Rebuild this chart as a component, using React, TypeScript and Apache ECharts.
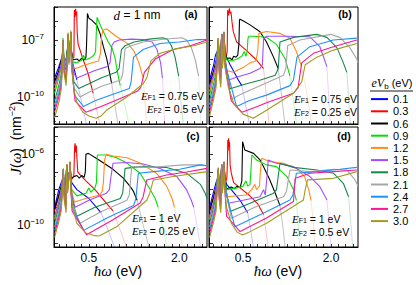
import React, { useEffect, useRef } from 'react';
import * as echarts from 'echarts';

// ---------- legend / series identity ----------
const biasLabels = ['0.1', '0.3', '0.6', '0.9', '1.2', '1.5', '1.8', '2.1', '2.4', '2.7', '3.0'];
const biasColors = ['#0000ff', '#ff0000', '#000000', '#00e000', '#ff8c1a', '#a04dff', '#13884a', '#a6a6a6', '#1e90ff', '#ff1493', '#a39a22'];

// x axis ticks (eV) and labels
const xTickValues = [0, 0.125, 0.25, 0.375, 0.5, 0.625, 0.75, 0.875, 1, 1.125, 1.25, 1.375, 1.5, 1.625, 1.75, 1.875, 2, 2.125, 2.25, 2.375];
const xLabelValues = [0.5, 2.0];
// y axis: log10 extents per panel and labelled decades
const yMinExp = [-11.42, -11.42, -11.24, -11.24];
const yMaxExp = [-5.26, -5.26, -4.46, -4.46];
const yLabelExps = [[-7, -10], [], [-6, -10], []];

// ---------- panel (a): E_F1 = 0.75 eV, E_F2 = 0.5 eV ; points are [ħω (eV), log10 J] ----------
const aPre = [
  [[-0.07,-9.0],[0.0,-8.4],[0.04,-8.0],[0.06,-7.8],[0.07,-7.5],[0.085,-8.0],[0.12,-8.1],[0.145,-7.4],[0.155,-6.7],[0.168,-7.7],[0.19,-7.3],[0.2,-6.6],[0.21,-7.6]],
  [[-0.07,-9.4],[0.0,-8.8],[0.04,-8.3],[0.06,-8.0],[0.07,-7.7],[0.085,-8.1],[0.12,-8.3],[0.145,-7.5],[0.155,-6.7],[0.168,-7.7],[0.19,-7.3],[0.2,-6.6],[0.21,-7.6]],
  [[-0.07,-9.2],[0.0,-8.6],[0.04,-8.1],[0.06,-7.9],[0.07,-7.5],[0.085,-8.0],[0.12,-8.1],[0.145,-7.5],[0.155,-6.7],[0.168,-7.7],[0.19,-7.3],[0.2,-6.6],[0.21,-7.6]],
  [[-0.07,-9.8],[0.0,-9.0],[0.04,-8.4],[0.06,-7.6],[0.07,-6.9],[0.085,-7.9],[0.12,-8.2],[0.145,-7.5],[0.155,-6.7],[0.168,-7.7],[0.19,-7.3],[0.2,-6.6],[0.21,-7.7]],
  [[-0.07,-9.6],[0.0,-8.9],[0.04,-8.3],[0.06,-7.8],[0.07,-7.3],[0.085,-8.0],[0.12,-8.3],[0.145,-7.6],[0.155,-6.7],[0.168,-7.8],[0.19,-7.3],[0.2,-6.6],[0.21,-7.8]],
  [[-0.07,-9.4],[0.0,-8.8],[0.04,-8.3],[0.06,-7.7],[0.07,-7.2],[0.085,-8.1],[0.12,-8.4],[0.145,-7.6],[0.155,-6.7],[0.168,-7.8],[0.19,-7.3],[0.2,-6.6],[0.21,-7.9]],
  [[-0.07,-10.2],[0.0,-9.4],[0.04,-8.8],[0.06,-7.9],[0.07,-7.2],[0.085,-8.3],[0.12,-8.6],[0.145,-7.7],[0.155,-6.7],[0.168,-7.9],[0.19,-7.3],[0.2,-6.6],[0.21,-8.0]],
  [[-0.07,-10.4],[0.0,-9.6],[0.04,-9.0],[0.06,-8.0],[0.07,-7.1],[0.085,-8.4],[0.12,-8.8],[0.145,-7.8],[0.155,-6.7],[0.168,-8.0],[0.19,-7.3],[0.2,-6.6],[0.21,-8.1]],
  [[-0.07,-10.6],[0.0,-9.8],[0.04,-9.2],[0.06,-8.1],[0.07,-7.0],[0.085,-8.5],[0.12,-9.0],[0.145,-7.9],[0.155,-6.7],[0.168,-8.1],[0.19,-7.3],[0.2,-6.6],[0.21,-8.2]],
  [[-0.07,-10.8],[0.0,-10.0],[0.04,-9.4],[0.06,-8.2],[0.07,-7.0],[0.085,-8.6],[0.12,-9.2],[0.145,-8.0],[0.155,-6.7],[0.168,-8.2],[0.19,-7.3],[0.2,-6.6],[0.21,-8.3]],
  [[-0.07,-11.1],[0.0,-10.3],[0.04,-9.6],[0.06,-8.3],[0.07,-7.0],[0.085,-8.7],[0.12,-9.4],[0.145,-8.1],[0.155,-6.6],[0.168,-8.3],[0.19,-7.2],[0.2,-6.5],[0.21,-8.4]],
];
const aRest = [
  [[0.23,-8.2],[0.26,-8.6],[0.3,-9.1]],
  [[0.23,-8.0],[0.25,-7.9],[0.258,-5.42],[0.268,-5.8],[0.278,-5.35],[0.288,-5.7],[0.296,-5.5],[0.305,-6.6],[0.32,-7.2],[0.4,-8.0],[0.48,-8.7],[0.57,-9.8]],
  [[0.23,-8.05],[0.3,-8.0],[0.34,-8.1],[0.38,-7.95],[0.42,-8.05],[0.45,-7.9],[0.46,-7.3],[0.475,-5.6],[0.5,-5.85],[0.546,-5.95],[0.63,-6.22],[0.684,-6.65],[0.74,-7.35],[0.794,-7.96],[0.877,-9.28]],
  [[0.23,-8.15],[0.3,-8.2],[0.38,-8.05],[0.41,-7.8],[0.44,-8.05],[0.52,-7.95],[0.58,-7.8],[0.61,-7.6],[0.625,-6.4],[0.635,-5.8],[0.66,-6.0],[0.7,-6.3],[0.76,-6.7],[0.82,-7.1],[0.88,-7.4],[0.93,-7.9],[0.98,-8.8],[1.02,-9.4]],
  [[0.24,-8.45],[0.28,-8.5],[0.4,-8.35],[0.55,-8.2],[0.66,-8.1],[0.69,-7.7],[0.71,-6.8],[0.73,-6.5],[0.79,-6.4],[0.85,-6.55],[0.95,-6.8],[1.05,-7.0],[1.15,-7.2],[1.25,-7.6],[1.33,-8.2],[1.4,-9.0]],
  [[0.24,-8.7],[0.3,-9.0],[0.45,-8.8],[0.6,-8.6],[0.8,-8.4],[0.85,-8.2],[0.88,-7.3],[0.92,-7.1],[1.0,-7.0],[1.2,-6.95],[1.4,-6.97],[1.55,-7.1],[1.63,-7.5],[1.69,-8.2],[1.72,-9.0]],
  [[0.25,-9.2],[0.33,-9.55],[0.5,-9.3],[0.7,-9.0],[0.95,-8.7],[1.0,-8.5],[1.04,-7.5],[1.1,-7.3],[1.25,-7.1],[1.5,-6.95],[1.72,-6.88],[1.8,-6.95],[1.87,-7.3],[1.93,-7.9],[1.99,-8.9]],
  [[0.25,-9.5],[0.35,-10.0],[0.5,-9.75],[0.7,-9.45],[1.03,-9.1],[1.06,-8.8],[1.1,-7.45],[1.2,-7.3],[1.4,-7.1],[1.7,-6.97],[2.04,-6.88],[2.12,-7.0],[2.2,-7.4],[2.27,-8.1],[2.32,-8.9]],
  [[0.26,-9.9],[0.41,-10.5],[0.6,-10.2],[0.9,-9.85],[1.17,-9.55],[1.2,-9.2],[1.24,-7.9],[1.4,-7.5],[1.68,-7.18],[2.0,-7.1],[2.3,-6.97],[2.46,-6.98]],
  [[0.27,-10.2],[0.45,-10.8],[0.7,-10.5],[1.0,-10.1],[1.3,-9.7],[1.36,-9.5],[1.42,-8.7],[1.6,-8.0],[1.9,-7.5],[2.18,-7.3],[2.46,-7.0]],
  [[0.25,-9.6],[0.3,-10.3],[0.4,-10.8],[0.5,-11.0],[0.62,-11.12],[0.7,-11.0],[0.79,-10.7],[1.13,-10.0],[1.4,-9.3],[1.46,-9.0],[1.53,-8.1],[1.68,-7.7],[1.96,-7.45],[2.24,-7.3],[2.46,-7.1]],
];
const aTail = [
  [[0.3,-9.1],[0.38,-10.3],[0.47,-11.6]],
  [[0.57,-9.8],[0.63,-10.7],[0.69,-11.6]],
  [[0.877,-9.28],[0.93,-10.4],[0.99,-11.6]],
  [[1.02,-9.4],[1.1,-10.5],[1.18,-11.6]],
  [[1.4,-9.0],[1.43,-10.3],[1.46,-11.6]],
  [[1.72,-9.0],[1.74,-10.3],[1.76,-11.6]],
  [[1.99,-8.9],[2.03,-10.3],[2.07,-11.6]],
  [[2.32,-8.9],[2.34,-10.3],[2.36,-11.6]],
  [], [], [],
];

// ---------- panel (b): E_F1 = 0.75 eV, E_F2 = 0.25 eV ----------
const bPre = [
  [[-0.07,-9.1],[0.0,-8.3],[0.03,-7.8],[0.06,-7.6],[0.079,-7.3],[0.095,-7.9],[0.12,-7.9],[0.136,-6.7],[0.15,-7.6],[0.168,-7.2],[0.176,-6.6],[0.19,-7.5]],
  [[-0.07,-9.4],[0.0,-8.7],[0.04,-8.2],[0.065,-7.8],[0.079,-7.4],[0.095,-8.0],[0.12,-8.0],[0.136,-6.7],[0.15,-7.7],[0.168,-7.2],[0.176,-6.6],[0.19,-7.6]],
  [[-0.07,-9.3],[0.0,-8.6],[0.04,-8.1],[0.065,-7.7],[0.079,-7.2],[0.095,-8.0],[0.12,-8.0],[0.136,-6.7],[0.15,-7.7],[0.168,-7.2],[0.176,-6.6],[0.19,-7.6]],
  [[-0.07,-9.9],[0.0,-8.9],[0.04,-8.3],[0.065,-7.5],[0.079,-6.9],[0.095,-8.0],[0.12,-8.1],[0.136,-6.7],[0.15,-7.8],[0.168,-7.2],[0.176,-6.6],[0.19,-7.7]],
  [[-0.07,-9.7],[0.0,-8.9],[0.04,-8.3],[0.065,-7.6],[0.079,-7.1],[0.095,-8.1],[0.12,-8.3],[0.136,-6.7],[0.15,-7.9],[0.168,-7.2],[0.176,-6.6],[0.19,-7.8]],
  [[-0.07,-9.5],[0.0,-8.8],[0.04,-8.3],[0.065,-7.6],[0.079,-7.0],[0.095,-8.2],[0.12,-8.5],[0.136,-6.7],[0.15,-8.0],[0.168,-7.2],[0.176,-6.6],[0.19,-7.9]],
  [[-0.07,-10.2],[0.0,-9.3],[0.04,-8.7],[0.065,-7.7],[0.079,-7.0],[0.095,-8.4],[0.12,-8.7],[0.136,-6.7],[0.15,-8.1],[0.168,-7.2],[0.176,-6.6],[0.19,-8.0]],
  [[-0.07,-10.4],[0.0,-9.5],[0.04,-8.9],[0.065,-7.8],[0.079,-6.95],[0.095,-8.5],[0.12,-8.9],[0.136,-6.7],[0.15,-8.2],[0.168,-7.2],[0.176,-6.6],[0.19,-8.1]],
  [[-0.07,-10.6],[0.0,-9.7],[0.04,-9.1],[0.065,-7.9],[0.079,-6.9],[0.095,-8.6],[0.12,-9.1],[0.136,-6.7],[0.15,-8.3],[0.168,-7.2],[0.176,-6.6],[0.19,-8.2]],
  [[-0.07,-10.8],[0.0,-9.9],[0.04,-9.3],[0.065,-8.0],[0.079,-6.9],[0.095,-8.7],[0.12,-9.3],[0.136,-6.7],[0.15,-8.4],[0.168,-7.2],[0.176,-6.6],[0.19,-8.3]],
  [[-0.07,-11.0],[0.0,-10.1],[0.04,-9.5],[0.065,-8.1],[0.079,-6.9],[0.095,-8.8],[0.12,-9.5],[0.136,-6.65],[0.15,-8.5],[0.168,-7.2],[0.176,-6.55],[0.19,-8.4]],
];
const bRest = [
  [[0.22,-7.9],[0.28,-8.3],[0.334,-8.6],[0.42,-9.1],[0.48,-9.4]],
  [[0.21,-7.9],[0.23,-7.6],[0.238,-5.42],[0.255,-5.7],[0.267,-5.33],[0.284,-5.6],[0.295,-5.51],[0.312,-6.05],[0.334,-6.56],[0.39,-7.1],[0.56,-7.56],[0.73,-8.05],[0.85,-8.5]],
  [[0.22,-7.96],[0.28,-7.95],[0.31,-8.05],[0.34,-7.85],[0.38,-7.9],[0.41,-7.8],[0.43,-7.2],[0.44,-5.93],[0.448,-5.9],[0.5,-5.98],[0.62,-6.2],[0.79,-6.56],[0.9,-7.1],[1.02,-7.9],[1.1,-8.5]],
  [[0.22,-8.05],[0.3,-8.1],[0.4,-8.0],[0.48,-7.85],[0.52,-7.6],[0.55,-7.85],[0.57,-7.6],[0.585,-6.9],[0.6,-6.8],[0.68,-6.8],[0.9,-6.85],[1.07,-7.23],[1.22,-8.0],[1.3,-8.9]],
  [[0.22,-8.6],[0.334,-8.7],[0.5,-8.45],[0.62,-8.2],[0.72,-8.1],[0.75,-7.6],[0.77,-6.65],[0.9,-6.55],[1.13,-6.65],[1.3,-6.9],[1.41,-7.6],[1.5,-8.4]],
  [[0.25,-9.1],[0.4,-8.95],[0.62,-8.75],[0.79,-8.5],[0.83,-8.3],[0.85,-6.95],[0.9,-6.8],[1.25,-6.8],[1.64,-6.83],[1.81,-7.35],[1.93,-8.4]],
  [[0.28,-9.56],[0.5,-9.35],[0.8,-9.1],[1.05,-8.85],[1.1,-8.5],[1.13,-7.1],[1.36,-6.86],[1.76,-6.7],[1.93,-6.86],[2.1,-7.4],[2.21,-8.2],[2.27,-8.7]],
  [[0.3,-10.1],[0.5,-9.8],[0.79,-9.4],[1.19,-8.85],[1.23,-8.5],[1.26,-7.3],[1.47,-7.0],[1.99,-6.7],[2.15,-6.86],[2.32,-7.4],[2.44,-8.0],[2.46,-8.2]],
  [[0.39,-10.5],[0.6,-10.2],[0.9,-9.9],[1.3,-9.4],[1.36,-9.1],[1.42,-7.9],[1.64,-7.35],[2.04,-7.0],[2.44,-6.9]],
  [[0.3,-10.2],[0.48,-10.8],[0.7,-10.55],[0.9,-10.3],[1.36,-9.8],[1.44,-9.5],[1.5,-8.2],[1.7,-7.7],[2.04,-7.35],[2.44,-7.0]],
  [[0.25,-9.5],[0.35,-10.4],[0.5,-10.9],[0.675,-11.12],[0.9,-10.7],[1.36,-9.8],[1.5,-9.2],[1.56,-8.3],[1.76,-7.9],[2.04,-7.53],[2.44,-7.18]],
];
const bTail = [
  [[0.48,-9.4],[0.55,-10.5],[0.62,-11.6]],
  [[0.85,-8.5],[0.9,-10.0],[0.95,-11.6]],
  [[1.1,-8.5],[1.16,-10.0],[1.22,-11.6]],
  [[1.3,-8.9],[1.36,-10.2],[1.42,-11.6]],
  [[1.5,-8.4],[1.6,-10.0],[1.68,-11.6]],
  [[1.93,-8.4],[1.96,-10.0],[1.99,-11.6]],
  [[2.27,-8.7],[2.3,-10.0],[2.33,-11.6]],
  [], [], [], [],
];

// ---------- panel (c): E_F1 = 1 eV, E_F2 = 0.25 eV ----------
const cPre = [
  [[-0.07,-9.0],[0.0,-8.0],[0.04,-7.6],[0.065,-7.4],[0.075,-7.17],[0.09,-7.7],[0.12,-7.6],[0.13,-6.6],[0.145,-7.4],[0.178,-7.0],[0.186,-6.45],[0.2,-7.3]],
  [[-0.07,-9.2],[0.0,-8.4],[0.04,-7.9],[0.065,-7.6],[0.075,-7.4],[0.09,-7.8],[0.12,-7.7],[0.13,-6.6],[0.145,-7.4],[0.178,-7.0],[0.186,-6.45],[0.2,-7.3]],
  [[-0.07,-9.1],[0.0,-8.3],[0.04,-7.8],[0.065,-7.5],[0.075,-7.3],[0.09,-7.8],[0.12,-7.7],[0.13,-6.6],[0.145,-7.4],[0.178,-7.0],[0.186,-6.45],[0.2,-7.3]],
  [[-0.07,-9.6],[0.0,-8.7],[0.04,-8.0],[0.065,-7.2],[0.075,-6.8],[0.09,-7.9],[0.12,-7.9],[0.13,-6.6],[0.145,-7.5],[0.178,-7.0],[0.186,-6.45],[0.2,-7.4]],
  [[-0.07,-9.7],[0.0,-8.8],[0.04,-8.1],[0.065,-7.4],[0.075,-7.0],[0.09,-8.0],[0.12,-8.1],[0.13,-6.6],[0.145,-7.6],[0.178,-7.0],[0.186,-6.45],[0.2,-7.5]],
  [[-0.07,-9.5],[0.0,-8.7],[0.04,-8.1],[0.065,-7.3],[0.075,-6.95],[0.09,-8.1],[0.12,-8.3],[0.13,-6.6],[0.145,-7.7],[0.178,-7.0],[0.186,-6.45],[0.2,-7.6]],
  [[-0.07,-9.9],[0.0,-9.0],[0.04,-8.4],[0.065,-7.4],[0.075,-6.9],[0.09,-8.2],[0.12,-8.5],[0.13,-6.6],[0.145,-7.8],[0.178,-7.0],[0.186,-6.45],[0.2,-7.7]],
  [[-0.07,-10.1],[0.0,-9.2],[0.04,-8.6],[0.065,-7.5],[0.075,-6.85],[0.09,-8.3],[0.12,-8.7],[0.13,-6.6],[0.145,-7.9],[0.178,-7.0],[0.186,-6.45],[0.2,-7.8]],
  [[-0.07,-10.3],[0.0,-9.4],[0.04,-8.8],[0.065,-7.6],[0.075,-6.85],[0.09,-8.4],[0.12,-8.9],[0.13,-6.6],[0.145,-8.0],[0.178,-7.0],[0.186,-6.45],[0.2,-7.9]],
  [[-0.07,-10.5],[0.0,-9.6],[0.04,-9.0],[0.065,-7.7],[0.075,-6.85],[0.09,-8.5],[0.12,-9.1],[0.13,-6.6],[0.145,-8.1],[0.178,-7.0],[0.186,-6.45],[0.2,-8.0]],
  [[-0.07,-10.7],[0.0,-9.8],[0.04,-9.2],[0.065,-7.8],[0.075,-6.85],[0.09,-8.6],[0.12,-9.3],[0.13,-6.55],[0.145,-8.2],[0.178,-7.0],[0.186,-6.4],[0.2,-8.1]],
];
const cRest = [
  [[0.214,-7.6],[0.3,-8.0],[0.5,-8.5],[0.7,-9.3]],
  [[0.22,-7.4],[0.25,-7.2],[0.262,-5.6],[0.27,-5.38],[0.28,-5.9],[0.29,-5.5],[0.3,-6.2],[0.315,-7.0],[0.35,-7.15],[0.45,-7.5],[0.6,-8.0],[0.75,-8.6],[0.9,-9.2]],
  [[0.214,-7.35],[0.26,-7.25],[0.3,-7.2],[0.34,-7.35],[0.38,-7.2],[0.42,-7.3],[0.44,-7.0],[0.45,-6.0],[0.49,-5.95],[0.68,-6.35],[0.9,-6.85],[1.07,-7.35],[1.18,-7.8],[1.24,-8.1],[1.3,-8.6]],
  [[0.214,-8.0],[0.3,-8.35],[0.45,-8.2],[0.5,-7.9],[0.53,-8.15],[0.6,-7.9],[0.625,-7.6],[0.64,-6.04],[0.79,-6.04],[0.96,-6.2],[1.13,-6.5],[1.35,-7.07],[1.51,-7.95],[1.6,-8.5],[1.65,-9.0]],
  [[0.22,-8.2],[0.26,-8.7],[0.45,-8.5],[0.68,-8.3],[0.72,-8.1],[0.74,-7.6],[0.76,-6.3],[0.79,-6.0],[0.9,-6.1],[1.13,-6.2],[1.35,-6.5],[1.62,-7.07],[1.79,-7.8],[1.88,-8.5],[1.92,-9.0]],
  [[0.22,-8.4],[0.27,-9.0],[0.5,-8.6],[0.79,-8.2],[0.84,-8.0],[0.86,-7.4],[0.9,-6.51],[1.13,-6.47],[1.4,-6.55],[1.68,-6.8],[1.96,-7.26],[2.12,-8.0],[2.2,-8.6],[2.24,-9.0]],
  [[0.22,-8.6],[0.3,-9.5],[0.6,-9.0],[1.02,-8.5],[1.06,-8.2],[1.1,-6.8],[1.35,-6.7],[1.79,-6.75],[2.12,-7.07],[2.35,-7.7],[2.43,-8.2],[2.46,-8.5]],
  [[0.22,-8.8],[0.35,-9.9],[0.7,-9.25],[1.13,-8.6],[1.17,-8.3],[1.21,-6.7],[1.51,-6.75],[2.07,-6.6],[2.35,-6.6],[2.46,-6.65]],
  [[0.22,-9.0],[0.41,-10.3],[0.8,-9.6],[1.24,-8.9],[1.28,-8.5],[1.32,-7.07],[1.57,-6.98],[2.01,-6.85],[2.35,-6.6],[2.46,-6.65]],
  [[0.22,-9.2],[0.46,-10.55],[0.9,-9.7],[1.35,-8.75],[1.4,-8.4],[1.46,-7.45],[1.79,-7.17],[2.12,-7.0],[2.46,-6.8]],
  [[0.23,-9.0],[0.3,-9.9],[0.45,-10.45],[0.6,-10.6],[0.67,-10.62],[0.96,-10.1],[1.46,-8.6],[1.51,-8.2],[1.57,-7.45],[1.9,-7.26],[2.46,-6.98]],
];
const cTail = [
  [[0.7,-9.3],[0.82,-10.3],[0.93,-11.3]],
  [[0.9,-9.2],[1.02,-10.3],[1.13,-11.3]],
  [[1.3,-8.6],[1.4,-10.0],[1.5,-11.3]],
  [[1.65,-9.0],[1.73,-10.2],[1.8,-11.3]],
  [[1.92,-9.0],[1.99,-10.2],[2.06,-11.3]],
  [[2.24,-9.0],[2.3,-10.2],[2.36,-11.3]],
  [], [], [], [], [],
];

// ---------- panel (d): E_F1 = 1 eV, E_F2 = 0.5 eV ----------
const dPre = [
  [[-0.07,-9.0],[0.0,-8.1],[0.04,-7.6],[0.065,-7.4],[0.079,-7.0],[0.095,-7.7],[0.12,-7.6],[0.136,-6.6],[0.15,-7.4],[0.168,-7.0],[0.176,-6.45],[0.19,-7.3]],
  [[-0.07,-9.2],[0.0,-8.4],[0.04,-7.9],[0.065,-7.6],[0.079,-7.3],[0.095,-7.8],[0.12,-7.7],[0.136,-6.6],[0.15,-7.4],[0.168,-7.0],[0.176,-6.45],[0.19,-7.3]],
  [[-0.07,-9.2],[0.0,-8.4],[0.04,-7.9],[0.065,-7.6],[0.079,-7.3],[0.095,-7.8],[0.12,-7.7],[0.136,-6.6],[0.15,-7.4],[0.168,-7.0],[0.176,-6.45],[0.19,-7.3]],
  [[-0.07,-9.6],[0.0,-8.7],[0.04,-8.0],[0.065,-7.3],[0.079,-6.75],[0.095,-7.9],[0.12,-7.9],[0.136,-6.6],[0.15,-7.5],[0.168,-7.0],[0.176,-6.45],[0.19,-7.4]],
  [[-0.07,-9.7],[0.0,-8.8],[0.04,-8.1],[0.065,-7.4],[0.079,-6.9],[0.095,-8.0],[0.12,-8.1],[0.136,-6.6],[0.15,-7.6],[0.168,-7.0],[0.176,-6.45],[0.19,-7.5]],
  [[-0.07,-9.5],[0.0,-8.7],[0.04,-8.1],[0.065,-7.3],[0.079,-6.9],[0.095,-8.1],[0.12,-8.3],[0.136,-6.6],[0.15,-7.7],[0.168,-7.0],[0.176,-6.45],[0.19,-7.6]],
  [[-0.07,-9.9],[0.0,-9.0],[0.04,-8.4],[0.065,-7.4],[0.079,-6.85],[0.095,-8.2],[0.12,-8.5],[0.136,-6.6],[0.15,-7.8],[0.168,-7.0],[0.176,-6.45],[0.19,-7.7]],
  [[-0.07,-10.1],[0.0,-9.2],[0.04,-8.6],[0.065,-7.5],[0.079,-6.8],[0.095,-8.3],[0.12,-8.7],[0.136,-6.6],[0.15,-7.9],[0.168,-7.0],[0.176,-6.45],[0.19,-7.8]],
  [[-0.07,-10.3],[0.0,-9.4],[0.04,-8.8],[0.065,-7.6],[0.079,-6.8],[0.095,-8.4],[0.12,-8.9],[0.136,-6.6],[0.15,-8.0],[0.168,-7.0],[0.176,-6.45],[0.19,-7.9]],
  [[-0.07,-10.5],[0.0,-9.6],[0.04,-9.0],[0.065,-7.7],[0.079,-6.8],[0.095,-8.5],[0.12,-9.1],[0.136,-6.6],[0.15,-8.1],[0.168,-7.0],[0.176,-6.45],[0.19,-8.0]],
  [[-0.07,-10.7],[0.0,-9.8],[0.04,-9.2],[0.065,-7.8],[0.079,-6.8],[0.095,-8.6],[0.12,-9.3],[0.136,-6.55],[0.15,-8.2],[0.168,-7.0],[0.176,-6.4],[0.19,-8.1]],
];
const dRest = [
  [[0.22,-7.7],[0.3,-8.0],[0.45,-8.6],[0.58,-9.3]],
  [[0.21,-7.5],[0.225,-7.3],[0.235,-6.3],[0.24,-5.2],[0.247,-5.8],[0.254,-5.1],[0.262,-5.6],[0.27,-5.3],[0.28,-6.6],[0.3,-7.07],[0.34,-7.6],[0.45,-7.9],[0.6,-8.3],[0.75,-8.8],[0.85,-9.4]],
  [[0.22,-7.95],[0.3,-7.85],[0.35,-7.95],[0.4,-7.8],[0.45,-7.9],[0.48,-7.5],[0.493,-5.29],[0.53,-5.76],[0.68,-5.95],[0.79,-6.32],[0.85,-6.7],[0.95,-7.4],[1.05,-8.2],[1.13,-8.9]],
  [[0.22,-8.0],[0.4,-7.9],[0.5,-7.8],[0.55,-7.5],[0.58,-7.8],[0.62,-7.7],[0.64,-6.6],[0.65,-6.04],[0.73,-6.32],[0.9,-6.6],[1.07,-6.7],[1.25,-7.26],[1.36,-8.0],[1.41,-8.6]],
  [[0.22,-8.4],[0.56,-8.3],[0.65,-8.0],[0.7,-7.7],[0.73,-8.0],[0.78,-7.8],[0.8,-6.8],[0.82,-6.23],[0.96,-6.42],[1.19,-6.51],[1.41,-6.8],[1.55,-7.26],[1.62,-8.0],[1.66,-8.6]],
  [[0.25,-8.77],[0.5,-8.6],[0.79,-8.4],[0.85,-8.0],[0.88,-8.3],[0.91,-7.2],[0.93,-6.32],[1.07,-6.51],[1.36,-6.7],[1.64,-7.26],[1.81,-7.83],[1.93,-8.58]],
  [[0.28,-9.24],[0.6,-8.8],[1.02,-8.2],[1.07,-8.0],[1.13,-6.51],[1.36,-6.74],[1.76,-6.89],[2.04,-7.07],[2.21,-7.64],[2.3,-8.4]],
  [[0.3,-9.62],[0.7,-9.0],[1.19,-8.4],[1.24,-8.1],[1.3,-6.89],[1.64,-6.98],[2.04,-6.85],[2.27,-6.89],[2.41,-7.45],[2.46,-7.8]],
  [[0.36,-10.09],[0.8,-9.4],[1.3,-8.58],[1.35,-8.3],[1.41,-7.07],[1.76,-6.98],[2.15,-6.85],[2.44,-6.74]],
  [[0.22,-9.5],[0.45,-10.37],[0.9,-9.6],[1.36,-8.67],[1.39,-7.36],[1.64,-7.07],[2.04,-6.98],[2.44,-6.89]],
  [[0.22,-9.0],[0.3,-9.9],[0.4,-10.4],[0.49,-10.56],[0.6,-10.4],[0.9,-9.9],[1.53,-8.58],[1.56,-8.0],[1.6,-7.45],[2.04,-7.36],[2.44,-6.98]],
];
const dTail = [
  [[0.58,-9.3],[0.63,-10.3],[0.68,-11.3]],
  [[0.85,-9.4],[0.89,-10.3],[0.93,-11.3]],
  [[1.13,-8.9],[1.18,-10.1],[1.22,-11.3]],
  [[1.41,-8.6],[1.44,-10.0],[1.47,-11.3]],
  [[1.66,-8.6],[1.7,-10.0],[1.73,-11.3]],
  [[1.93,-8.58],[1.97,-10.0],[2.0,-11.3]],
  [[2.3,-8.4],[2.34,-10.0],[2.37,-11.3]],
  [], [], [], [],
];

const panelPre = [aPre, bPre, cPre, dPre];
const panelRest = [aRest, bRest, cRest, dRest];
const panelTail = [aTail, bTail, cTail, dTail];

const SERIF = "'Liberation Serif', 'DejaVu Serif', serif";
const SANS = "'Liberation Sans', Arial, sans-serif";

const toData = (pts: number[][]) => pts.map(([x, e]) => [x, Math.pow(10, e)]);

export default function App() {
  const ref = useRef<HTMLDivElement>(null);
  useEffect(() => {
    if (!ref.current) return;
    const chart = echarts.init(ref.current, undefined, { renderer: 'svg' });

    const grids = [
      { left: 54, top: 7, width: 153, height: 117 },
      { left: 209, top: 7, width: 149, height: 117 },
      { left: 54, top: 127, width: 153, height: 120 },
      { left: 209, top: 127, width: 149, height: 120 },
    ].map((g) => ({ ...g, show: true, borderColor: '#000', borderWidth: 1, backgroundColor: 'transparent', containLabel: false }));

    const xAxes = [0, 1, 2, 3].map((p) => ({
      type: 'value',
      gridIndex: p,
      min: -0.08,
      max: 2.46,
      axisLine: { show: true, onZero: false, lineStyle: { color: '#000', width: 1 } },
      axisTick: { show: true, inside: true, length: 3, customValues: xTickValues, lineStyle: { color: '#000', width: 0.8 } },
      axisLabel: {
        show: p >= 2,
        customValues: xLabelValues,
        formatter: (v: number) => v.toFixed(1),
        color: '#000',
        fontSize: 12,
        fontFamily: SANS,
        margin: 5,
      },
      splitLine: { show: false },
    }));

    const yAxes = [0, 1, 2, 3].map((p) => ({
      type: 'log',
      logBase: 10,
      gridIndex: p,
      min: Math.pow(10, yMinExp[p]),
      max: Math.pow(10, yMaxExp[p]),
      axisLine: { show: true, onZero: false, lineStyle: { color: '#000', width: 1 } },
      axisTick: { show: true, inside: true, length: 4, lineStyle: { color: '#000', width: 0.8 } },
      minorTick: { show: true, splitNumber: 2, length: 2, lineStyle: { color: '#000', width: 0.6 } },
      axisLabel: {
        show: yLabelExps[p].length > 0,
        formatter: (v: number) => {
          const e = Math.log10(v);
          const r = Math.round(e);
          if (Math.abs(e - r) > 1e-6 || !yLabelExps[p].includes(r)) return '';
          return '10{s|−' + String(-r) + '}';
        },
        color: '#000',
        fontSize: 12,
        lineHeight: 15,
        fontFamily: SANS,
        margin: 10,
        rich: { s: { fontSize: 8, lineHeight: 8, verticalAlign: 'top', fontFamily: SANS, color: '#000' } },
      },
      splitLine: { show: false },
    }));

    const series: any[] = [];
    for (let p = 0; p < 4; p++) {
      for (let i = 0; i < biasLabels.length; i++) {
        const tail = panelTail[p][i];
        if (tail.length) {
          series.push({
            type: 'line',
            name: 'tail ' + biasLabels[i],
            xAxisIndex: p,
            yAxisIndex: p,
            data: toData(tail),
            showSymbol: false,
            silent: true,
            lineStyle: { color: biasColors[i], width: 0.8, opacity: 0.3 },
            itemStyle: { color: biasColors[i] },
          });
        }
      }
      for (let i = 0; i < biasLabels.length; i++) {
        series.push({
          type: 'line',
          name: biasLabels[i],
          xAxisIndex: p,
          yAxisIndex: p,
          data: toData([...panelPre[p][i], ...panelRest[p][i]]),
          showSymbol: false,
          lineStyle: { color: biasColors[i], width: 1.1 },
          itemStyle: { color: biasColors[i] },
        });
      }
    }

    const efRich = {
      i: { fontFamily: SERIF, fontStyle: 'italic', fontSize: 11, lineHeight: 10, color: '#000' },
      s: { fontFamily: SANS, fontSize: 7, lineHeight: 6, verticalAlign: 'bottom', color: '#000' },
      n: { fontFamily: SANS, fontSize: 10.5, lineHeight: 10, color: '#000' },
    };
    const efText = (x: number, y: number, txt: string, align: string) => ({
      type: 'text',
      x,
      y,
      silent: true,
      style: { text: txt, rich: efRich, align, verticalAlign: 'middle' },
    });
    const panelLetter = (x: number, y: number, t: string) => ({
      type: 'text',
      x,
      y,
      silent: true,
      style: { text: t, font: 'bold 10.5px ' + SANS, fill: '#000', align: 'center', verticalAlign: 'middle' },
    });
    const xTitleRich = {
      i: { fontFamily: SERIF, fontStyle: 'italic', fontSize: 15, lineHeight: 16, color: '#000' },
      n: { fontFamily: SANS, fontSize: 14, lineHeight: 16, color: '#000' },
    };

    const option: any = {
      animation: false,
      grid: grids,
      xAxis: xAxes,
      yAxis: yAxes,
      series,
      legend: {
        data: biasLabels,
        orient: 'vertical',
        left: 371,
        top: 93,
        icon: 'rect',
        itemWidth: 17,
        itemHeight: 2,
        itemGap: 0,
        padding: 0,
        selectedMode: false,
        textStyle: { fontSize: 11, fontFamily: SANS, color: '#000', lineHeight: 12.2 },
      },
      graphic: [
        {
          type: 'text', x: 137, y: 15, silent: true,
          style: {
            text: '{i|d}{n| = 1 nm}', align: 'center', verticalAlign: 'middle',
            rich: {
              i: { fontFamily: SERIF, fontStyle: 'italic', fontSize: 13, lineHeight: 15, color: '#000' },
              n: { fontFamily: SANS, fontSize: 12, lineHeight: 15, color: '#000' },
            },
          },
        },
        panelLetter(191, 14, '(a)'),
        panelLetter(345, 14, '(b)'),
        panelLetter(193, 136, '(c)'),
        panelLetter(344, 136, '(d)'),
        efText(204, 95.5, '{i|E}{s|F1}{n| = 0.75 eV}', 'right'),
        efText(204, 108.5, '{i|E}{s|F2}{n| = 0.5 eV}', 'right'),
        efText(357, 98.5, '{i|E}{s|F1}{n| = 0.75 eV}', 'right'),
        efText(357, 111.5, '{i|E}{s|F2}{n| = 0.25 eV}', 'right'),
        efText(132, 217.5, '{i|E}{s|F1}{n| = 1 eV}', 'left'),
        efText(132, 230.5, '{i|E}{s|F2}{n| = 0.25 eV}', 'left'),
        efText(292, 218.5, '{i|E}{s|F1}{n| = 1 eV}', 'left'),
        efText(292, 231.5, '{i|E}{s|F2}{n| = 0.5 eV}', 'left'),
        {
          type: 'text', x: 118, y: 271, silent: true,
          style: { text: '{i|ħω}{n| (eV)}', rich: xTitleRich, align: 'center', verticalAlign: 'middle' },
        },
        {
          type: 'text', x: 278, y: 271, silent: true,
          style: { text: '{i|ħω}{n| (eV)}', rich: xTitleRich, align: 'center', verticalAlign: 'middle' },
        },
        {
          type: 'text', x: 16, y: 138, rotation: Math.PI / 2, silent: true,
          style: {
            text: '{i|J}{n|(}{i|ω}{n|)  (nm}{p|−2}{n|)}', align: 'center', verticalAlign: 'middle',
            rich: {
              i: { fontFamily: SERIF, fontStyle: 'italic', fontSize: 15, lineHeight: 17, color: '#000' },
              n: { fontFamily: SANS, fontSize: 14, lineHeight: 17, color: '#000' },
              p: { fontFamily: SANS, fontSize: 9, lineHeight: 9, verticalAlign: 'top', color: '#000' },
            },
          },
        },
        {
          type: 'text', x: 392, y: 83, silent: true,
          style: {
            text: '{i|eV}{s|b}{n| (eV)}', align: 'center', verticalAlign: 'middle',
            rich: {
              i: { fontFamily: SERIF, fontStyle: 'italic', fontSize: 12, lineHeight: 14, color: '#000' },
              s: { fontFamily: SANS, fontSize: 8, lineHeight: 7, verticalAlign: 'bottom', color: '#000' },
              n: { fontFamily: SANS, fontSize: 11, lineHeight: 14, color: '#000' },
            },
          },
        },
        {
          type: 'line', silent: true,
          shape: { x1: 370, y1: 91, x2: 413, y2: 91 },
          style: { stroke: '#666', lineWidth: 1.5 },
        },
      ],
    };
    chart.setOption(option);
    return () => chart.dispose();
  }, []);
  return <div ref={ref} style={{ width: 416, height: 285, position: 'absolute', left: 0, top: 0 }} />;
}
